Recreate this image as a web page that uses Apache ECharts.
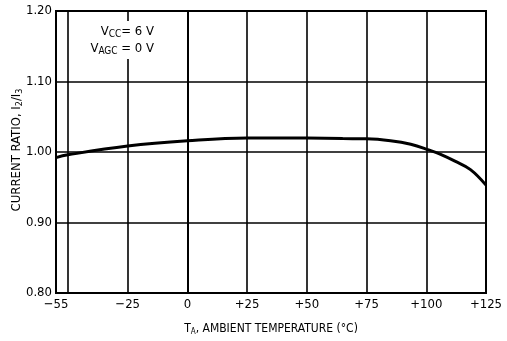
<!DOCTYPE html>
<html>
<head>
<meta charset="utf-8">
<script src="https://cdn.jsdelivr.net/npm/echarts@6/dist/echarts.min.js"></script>
<style>
  html, body { margin: 0; padding: 0; background: #fff; }
  #chart { width: 507px; height: 341px; }
</style>
</head>
<body>
<div id="chart"></div>
<script>
// curve: temperature (°C) -> I2/I3
const temps = [-55, -50, -25, 0, 25, 50, 65, 75, 85, 93.5, 101, 106, 112, 118.5, 125];
const ratio = [0.992, 0.996, 1.0085, 1.016, 1.020, 1.0197, 1.019, 1.0187, 1.016, 1.011, 1.003, 0.9966, 0.987, 0.975, 0.953];
// grid lines and labels on the temperature axis
const xGrid = [-50, -25, 0, 25, 50, 75, 100, 125];
const xLabels = [-55, -25, 0, 25, 50, 75, 100, 125];

const font = "'DejaVu Sans Condensed', 'DejaVu Sans', sans-serif";
const myChart = echarts.init(document.getElementById('chart'));

const option = {
  backgroundColor: '#fff',
  animation: false,
  grid: {
    left: 56, right: 21, top: 11, bottom: 46,
    show: true, borderColor: '#000', borderWidth: 2
  },
  xAxis: {
    type: 'value',
    min: -55,
    max: 125,
    name: '{t|T}{s|A}{t|, AMBIENT TEMPERATURE (°C)}',
    nameLocation: 'middle',
    nameGap: 29,
    nameTextStyle: {
      rich: {
        t: { fontFamily: font, fontSize: 12, color: '#000' },
        s: { fontFamily: font, fontSize: 8, color: '#000', padding: [6, 0, 0, 0] }
      }
    },
    axisLine: { show: true, lineStyle: { color: '#000', width: 2 } },
    axisTick: { show: false, customValues: xGrid },
    axisLabel: {
      customValues: xLabels,
      margin: 5,
      color: '#000',
      fontFamily: font,
      fontSize: 13,
      formatter: v => v > 0 ? '+' + v : (v < 0 ? '\u2212' + (-v) : '0')
    },
    splitLine: { show: true, lineStyle: { color: '#000', width: 1.6 } }
  },
  yAxis: {
    type: 'value',
    min: 0.8,
    max: 1.2,
    interval: 0.1,
    axisLine: { show: true, lineStyle: { color: '#000', width: 2 } },
    axisTick: { show: false },
    axisLabel: {
      margin: 4,
      color: '#000',
      fontFamily: font,
      fontSize: 13,
      formatter: v => v.toFixed(2)
    },
    splitLine: { show: true, lineStyle: { color: '#000', width: 1.6 } }
  },
  graphic: [
    {
      type: 'text',
      x: 17, y: 150,
      rotation: Math.PI / 2,
      style: {
        text: '{t|CURRENT RATIO, I}{s|2}{t|/I}{s|3}',
        align: 'center', verticalAlign: 'middle',
        rich: {
          t: { fontFamily: font, fontSize: 13, fill: '#000' },
          s: { fontFamily: font, fontSize: 9, fill: '#000', padding: [6, 0, 0, 0] }
        }
      }
    },
    {
      type: 'text',
      x: 157, y: 21,
      z: 100,
      style: {
        text: '{t|V}{s|CC}{t|= 6 V}\n{t|V}{s|AGC}{t| = 0 V}',
        align: 'right', verticalAlign: 'top',
        backgroundColor: '#fff',
        padding: [2, 3, 2, 3],
        rich: {
          t: { fontFamily: font, fontSize: 13, fill: '#000', lineHeight: 17 },
          s: { fontFamily: font, fontSize: 10, fill: '#000', lineHeight: 17, padding: [5, 0, 0, 0] }
        }
      }
    }
  ],
  series: [
    {
      type: 'line',
      data: temps.map((t, i) => [t, ratio[i]]),
      smooth: 0.4,
      showSymbol: false,
      lineStyle: { color: '#000', width: 3 }
    }
  ]
};
myChart.setOption(option);
</script>
</body>
</html>
